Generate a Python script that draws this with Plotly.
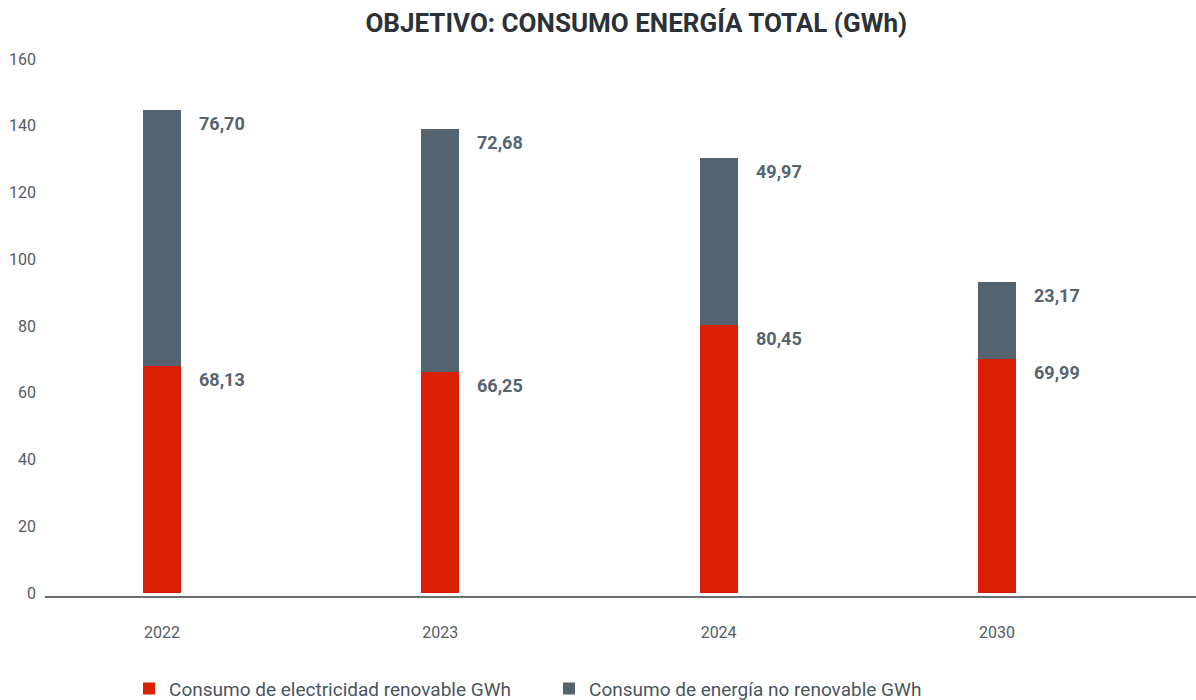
import plotly.graph_objects as go

years = ["2022", "2023", "2024", "2030"]
renovable = [68.13, 66.25, 80.45, 69.99]
no_renovable = [76.70, 72.68, 49.97, 23.17]
renovable_labels = ["68,13", "66,25", "80,45", "69,99"]
no_renovable_labels = ["76,70", "72,68", "49,97", "23,17"]
y_ticks = [0, 20, 40, 60, 80, 100, 120, 140, 160]

RED = "#d91f04"
GRAY = "#53636f"
LABEL = "#56646f"
FONT = "Roboto"

fig = go.Figure()
fig.add_trace(go.Bar(
    x=years, y=renovable, name="Consumo de electricidad renovable GWh",
    marker=dict(color=RED, line=dict(width=0)), width=0.137,
))
fig.add_trace(go.Bar(
    x=years, y=no_renovable, name="Consumo de energía no renovable GWh",
    marker=dict(color=GRAY, line=dict(width=0)), width=0.137,
))

annotations = []
for i, yr in enumerate(years):
    annotations.append(dict(
        x=i, y=renovable[i], text=renovable_labels[i], showarrow=False,
        xanchor="left", yanchor="top", xshift=35, yshift=-1,
        font=dict(family=FONT, size=18, color=LABEL, weight="bold"),
    ))
    annotations.append(dict(
        x=i, y=renovable[i] + no_renovable[i], text=no_renovable_labels[i], showarrow=False,
        xanchor="left", yanchor="top", xshift=35, yshift=-1,
        font=dict(family=FONT, size=18, color=LABEL, weight="bold"),
    ))

fig.update_layout(
    barmode="stack",
    width=1196, height=700,
    paper_bgcolor="white", plot_bgcolor="white",
    margin=dict(l=45, r=0, t=59, b=104, autoexpand=False),
    font=dict(family=FONT, color="#555b61"),
    title=dict(
        text="OBJETIVO: CONSUMO ENERGÍA TOTAL (GWh)",
        x=0.532, xanchor="center", y=0.980, yanchor="top",
        font=dict(family=FONT, size=26, color="#2b3138", weight="bold"),
    ),
    xaxis=dict(
        type="category", range=[-0.42, 3.715],
        showline=True, linecolor="#6b6f73", linewidth=2,
        showgrid=False, zeroline=False, ticks="",
        tickfont=dict(family=FONT, size=16, color="#555b61"),
        ticklabelstandoff=21, automargin=False,
    ),
    yaxis=dict(
        range=[-0.9, 160], tickvals=y_ticks,
        showgrid=False, zeroline=False, showline=False, ticks="",
        tickfont=dict(family=FONT, size=16, color="#555b61"),
        ticklabelstandoff=8, automargin=False,
    ),
    legend=dict(
        orientation="h", x=0.073, xanchor="left",
        y=-0.1725, yanchor="middle",
        font=dict(family=FONT, size=19, color="#4a5560"),
        entrywidth=375, entrywidthmode="pixels",
        traceorder="normal",
    ),
    annotations=annotations,
    showlegend=True,
)

fig.write_html(
    "out.html",
    config={"displayModeBar": False},
    post_script="document.body.style.margin='0';document.body.style.padding='0';",
)
